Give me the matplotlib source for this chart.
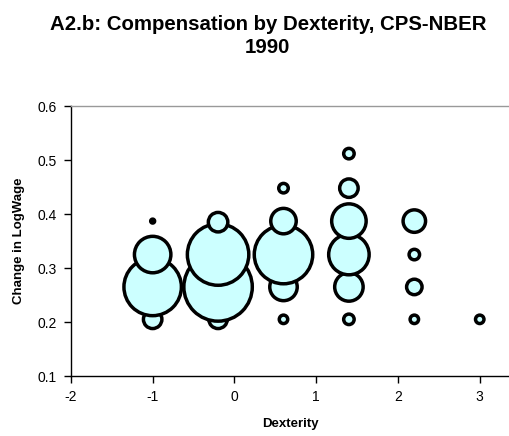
import matplotlib
matplotlib.use("Agg")
import matplotlib.pyplot as plt

plt.rcParams['font.family'] = ['Liberation Sans', 'DejaVu Sans']

# bubble data: dexterity, change in log wage, bubble weight
dexterity = [-1, -1, -1, -1,
             -0.2, -0.2, -0.2, -0.2,
             0.6, 0.6, 0.6, 0.6, 0.6,
             1.4, 1.4, 1.4, 1.4, 1.4, 1.4,
             2.2, 2.2, 2.2, 2.2,
             3.0]
logwage = [0.205, 0.265, 0.325, 0.387,
           0.205, 0.265, 0.325, 0.385,
           0.205, 0.265, 0.325, 0.387, 0.448,
           0.205, 0.265, 0.325, 0.387, 0.448, 0.512,
           0.205, 0.265, 0.325, 0.387,
           0.205]
weight = [177, 1711, 689, 8,
          177, 2428, 1957, 197,
          37, 391, 1771, 336, 47,
          57, 420, 849, 616, 177, 57,
          37, 124, 57, 262,
          37]

xticks = [-2, -1, 0, 1, 2, 3]
yticks = [0.1, 0.2, 0.3, 0.4, 0.5, 0.6]

fig = plt.figure(figsize=(5.10, 4.36), dpi=100)
ax = fig.add_axes([0.139, 0.1376, 0.861, 0.619])

# draw lower bubbles first so higher ones sit on top
order = sorted(range(len(logwage)), key=lambda i: logwage[i])
xs = [dexterity[i] for i in order]
ys = [logwage[i] for i in order]
ss = [weight[i] for i in order]
ax.scatter(xs, ys, s=ss, facecolor='#CCFFFF', edgecolor='black', linewidth=2.5, zorder=3)

ax.set_xlim(-2, 3.37)
ax.set_ylim(0.1, 0.6)
ax.set_xticks(xticks)
ax.set_yticks(yticks)
ax.set_xticklabels([str(t) for t in xticks])
ax.set_yticklabels(['%.1f' % t for t in yticks])
ax.tick_params(labelsize=10, direction='out', length=5, width=1, pad=5)
ax.spines['top'].set_color('#999999')
ax.spines['top'].set_linewidth(1)
ax.spines['right'].set_visible(False)
ax.spines['left'].set_linewidth(1)
ax.spines['bottom'].set_linewidth(1)

ax.set_xlabel('Dexterity', fontsize=9.5, fontweight='bold', labelpad=10)
ax.set_ylabel('Change in LogWage', fontsize=9.5, fontweight='bold', labelpad=9)
fig.text(0.525, 0.966, 'A2.b: Compensation by Dexterity, CPS-NBER\n1990',
         ha='center', va='top', fontsize=14.7, fontweight='bold', linespacing=1.3)

fig.savefig('out.png', dpi=100)
